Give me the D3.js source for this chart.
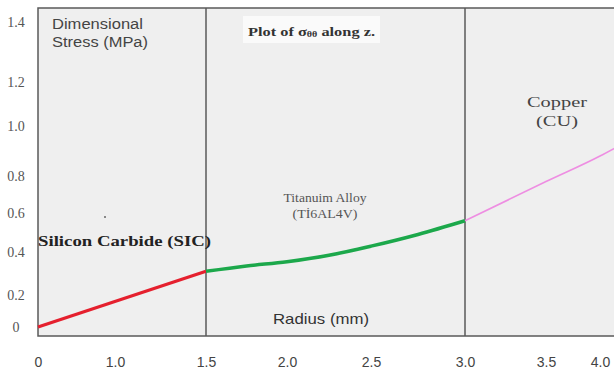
<!DOCTYPE html>
<html>
<head>
<meta charset="utf-8">
<script src="https://cdn.jsdelivr.net/npm/d3@7"></script>
<style>
  body { margin: 0; background: #fff; }
  svg { display: block; }
</style>
</head>
<body>
<svg id="chart" width="614" height="378"></svg>
<script>
// Data
const xTicks = [0, 1.0, 1.5, 2.0, 2.5, 3.0, 3.5, 4.0];
const yTicks = [0, 0.2, 0.4, 0.6, 0.8, 1.0, 1.2, 1.4];
const layerBounds = [1.5, 3.0];

const sicRadius = [0, 1.5];
const sicStress = [0, 0.31];
const tiRadius = [1.5, 1.75, 2.0, 2.25, 2.5, 2.75, 3.0];
const tiStress = [0.31, 0.335, 0.355, 0.385, 0.43, 0.49, 0.56];
const cuRadius = [3.0, 3.5, 4.0, 4.13];
const cuStress = [0.56, 0.77, 0.88, 0.91];

// Layout
const plot = { left: 38, top: 8, bottom: 336, right: 620 };
const sans = "Liberation Sans, Arial, sans-serif";
const serif = "Liberation Serif, Times New Roman, serif";

const svg = d3.select("#chart");

// the source figure has unevenly spaced ticks, so piecewise scales
const xScale = d3.scaleLinear()
    .domain(xTicks)
    .range([38, 115, 206, 287, 371, 465, 546, 600]);

const yScale = d3.scaleLinear()
    .domain(yTicks)
    .range([327, 295, 252, 213, 176, 126, 82, 22]);

// Plot background + frame
svg.append("rect")
    .attr("x", plot.left)
    .attr("y", plot.top)
    .attr("width", plot.right - plot.left)
    .attr("height", plot.bottom - plot.top)
    .attr("fill", "#efefef")
    .attr("stroke", "#5a5a5a")
    .attr("stroke-width", 1.5);

// Layer dividers
svg.selectAll(".divider")
    .data(layerBounds)
    .enter()
    .append("line")
    .attr("class", "divider")
    .attr("x1", d => xScale(d))
    .attr("x2", d => xScale(d))
    .attr("y1", plot.top)
    .attr("y2", plot.bottom)
    .attr("stroke", "#5a5a5a")
    .attr("stroke-width", 1.5);

// Curves
const line = d3.line()
    .x(d => xScale(d[0]))
    .y(d => yScale(d[1]))
    .curve(d3.curveMonotoneX);

const segments = [
    { r: sicRadius, s: sicStress, color: "#e5202e", w: 3.2 },
    { r: tiRadius, s: tiStress, color: "#1ca84b", w: 3.5 },
    { r: cuRadius, s: cuStress, color: "#ee8ee2", w: 1.6 }
];

svg.selectAll(".curve")
    .data(segments)
    .enter()
    .append("path")
    .attr("class", "curve")
    .attr("fill", "none")
    .attr("stroke", d => d.color)
    .attr("stroke-width", d => d.w)
    .attr("d", d => line(d.r.map((r, i) => [r, d.s[i]])));

// Axes (labels only)
const fmt = d => d === 0 ? "0" : d3.format(".1f")(d);

const xAxis = svg.append("g")
    .attr("transform", "translate(0,367)")
    .call(d3.axisBottom(xScale).tickValues(xTicks).tickSize(0).tickFormat(fmt));
xAxis.select(".domain").remove();
xAxis.selectAll("text")
    .attr("dy", 0)
    .attr("y", 0)
    .style("font-family", sans)
    .style("font-size", "14px")
    .attr("fill", "#444");

const yAxis = svg.append("g")
    .attr("transform", "translate(16,0)")
    .call(d3.axisLeft(yScale).tickValues(yTicks).tickSize(0).tickFormat(fmt));
yAxis.select(".domain").remove();
yAxis.selectAll("text")
    .attr("x", 0)
    .attr("text-anchor", "middle")
    .style("font-family", serif)
    .style("font-size", "14px")
    .attr("fill", "#555");

// Annotations (the source lettering is wider than our fonts, so stretch a bit)
function label(x, y, str, opts) {
    const t = svg.append("text")
        .attr("x", x).attr("y", y)
        .attr("text-anchor", opts.anchor || "start")
        .style("font-family", opts.font)
        .style("font-size", opts.size + "px")
        .style("font-weight", opts.weight || "normal")
        .attr("fill", opts.fill || "#444")
        .text(str);
    if (opts.len) t.attr("textLength", opts.len).attr("lengthAdjust", "spacingAndGlyphs");
    return t;
}

label(52, 29, "Dimensional", { font: sans, size: 14, len: 91 });
label(52, 47, "Stress (MPa)", { font: sans, size: 14, len: 96 });

// title box
svg.append("rect")
    .attr("x", 243).attr("y", 16)
    .attr("width", 137).attr("height", 27)
    .attr("fill", "#fafafa");
const title = svg.append("text")
    .attr("x", 248).attr("y", 36)
    .style("font-family", serif).style("font-size", "13px")
    .style("font-weight", "bold")
    .attr("fill", "#333");
title.append("tspan").text("Plot of σ");
title.append("tspan").attr("font-size", "8px").attr("dy", 1).text("θθ");
title.append("tspan").attr("dy", -1).text(" along z.");
title.attr("textLength", 127).attr("lengthAdjust", "spacingAndGlyphs");

label(557, 107, "Copper", { font: serif, size: 15.5, anchor: "middle", len: 60 });
label(557, 126, "(CU)", { font: serif, size: 15.5, anchor: "middle", len: 42 });

label(325, 202, "Titanuim Alloy", { font: serif, size: 12.5, anchor: "middle", fill: "#555", len: 83 });
label(325, 218, "(Tİ6AL4V)", { font: serif, size: 12.5, anchor: "middle", fill: "#555", len: 65 });

label(38, 246, "Silicon Carbide (SIC)", { font: serif, size: 15, weight: "bold", fill: "#222", len: 173 });

svg.append("circle")
    .attr("cx", 105).attr("cy", 217).attr("r", 1)
    .attr("fill", "#666");

label(321, 324, "Radius (mm)", { font: sans, size: 14.5, anchor: "middle", fill: "#333", len: 96 });
</script>
</body>
</html>
